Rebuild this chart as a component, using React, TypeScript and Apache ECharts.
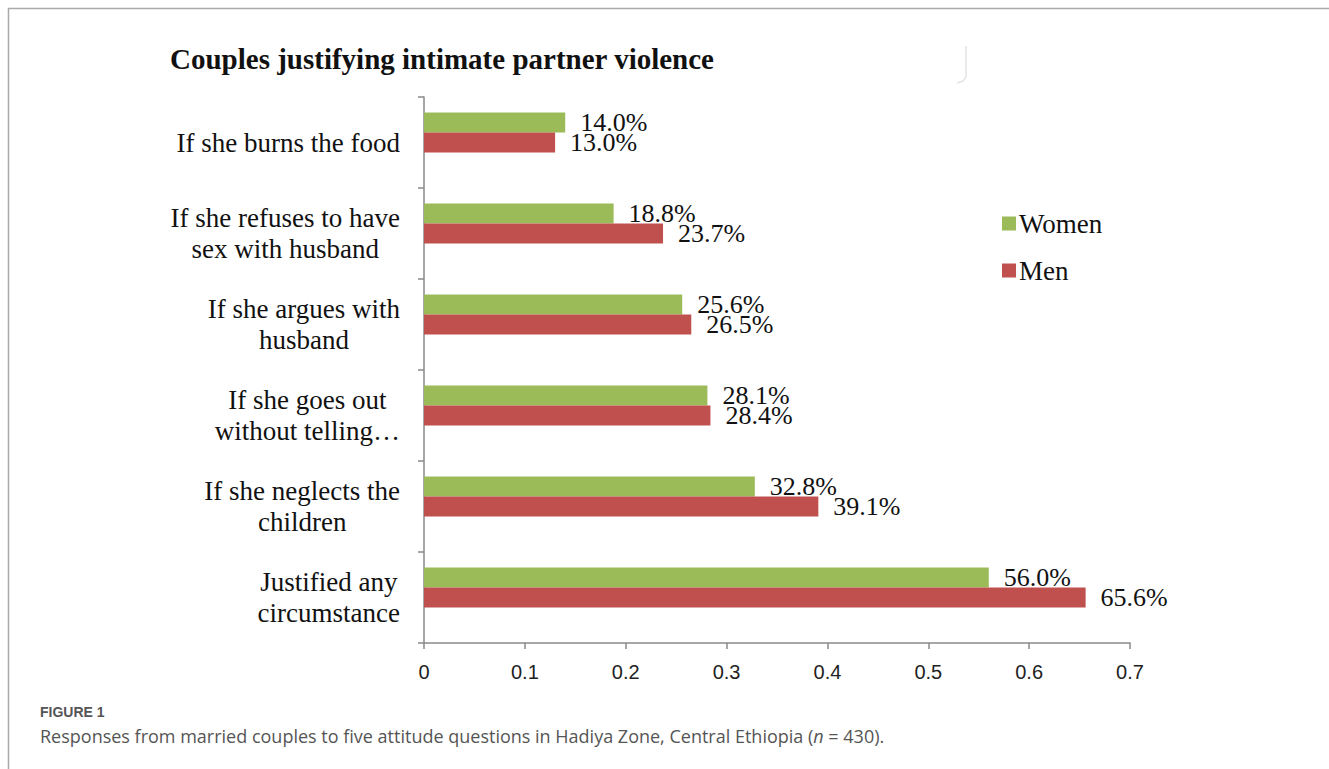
import React, { useEffect, useRef } from "react";
import * as echarts from "echarts";

const categories = [
  "If she burns the food",
  "If she refuses to have\nsex with husband",
  "If she argues with\nhusband",
  "If she goes out\nwithout telling…",
  "If she neglects the\nchildren",
  "Justified any\ncircumstance",
];
const women = [0.14, 0.188, 0.256, 0.281, 0.328, 0.56];
const men = [0.13, 0.237, 0.265, 0.284, 0.391, 0.656];
const spacer = [null, null, null, null, null, null];
const xTicks = [0, 0.1, 0.2, 0.3, 0.4, 0.5, 0.6, 0.7];

const SERIF = "'Liberation Serif', 'Times New Roman', serif";
const NARROW = "'Liberation Sans Narrow', 'Liberation Sans', Arial, sans-serif";

export default function App() {
  const ref = useRef<HTMLDivElement>(null);
  useEffect(() => {
    document.body.style.margin = "0";
    const chart = echarts.init(ref.current!, null, { renderer: "svg" });
    const labelCommon = {
      show: true,
      position: "right",
      distance: 15,
      fontFamily: SERIF,
      fontSize: 26,
      color: "#111",
      formatter: (p: any) => (p.value * 100).toFixed(1) + "%",
    };
    chart.setOption({
      animation: false,
      backgroundColor: "#fff",
      title: {
        text: "Couples justifying intimate partner violence",
        left: 170,
        top: 44,
        padding: 0,
        textStyle: { fontFamily: SERIF, fontWeight: "bold", fontSize: 29, color: "#111" },
      },
      legend: {
        data: ["Women", "Men"],
        orient: "vertical",
        left: 997,
        top: 205,
        icon: "rect",
        itemWidth: 14,
        itemHeight: 14,
        itemGap: 20,
        textStyle: { fontFamily: SERIF, fontSize: 27, color: "#111", padding: [0, 0, 0, -2] },
      },
      grid: { left: 424, right: 199, top: 97, bottom: 126, containLabel: false },
      xAxis: {
        type: "value",
        min: xTicks[0],
        max: xTicks[xTicks.length - 1],
        interval: 0.1,
        splitLine: { show: false },
        axisLine: { show: true, lineStyle: { color: "#8a8a8a", width: 1.5 } },
        axisTick: { show: true, length: 6, lineStyle: { color: "#8a8a8a", width: 1.5 } },
        axisLabel: {
          margin: 19,
          fontFamily: NARROW,
          fontSize: 20,
          color: "#222",
          formatter: (v: number) => String(Math.round(v * 10) / 10),
        },
      },
      yAxis: {
        type: "category",
        data: categories,
        inverse: true,
        axisLine: { show: true, lineStyle: { color: "#8a8a8a", width: 1.5 } },
        axisTick: { show: true, length: 6, lineStyle: { color: "#8a8a8a", width: 1.5 } },
        axisLabel: {
          margin: 24,
          fontFamily: SERIF,
          fontSize: 27,
          lineHeight: 31,
          color: "#111",
          formatter: (v: string) =>
            v
              .split("\n")
              .map((l) => "{c|" + l + "}")
              .join("\n"),
          rich: {
            c: { align: "center", fontFamily: SERIF, fontSize: 27, lineHeight: 31, color: "#111" },
          },
        },
      },
      series: [
        {
          name: "Women",
          type: "bar",
          data: women,
          barWidth: 20,
          barGap: "0%",
          itemStyle: { color: "#9BBB59" },
          label: labelCommon,
        },
        {
          name: "Men",
          type: "bar",
          data: men,
          barWidth: 20,
          barGap: "0%",
          itemStyle: { color: "#C0504D" },
          label: labelCommon,
        },
        {
          name: "spacer",
          type: "bar",
          data: spacer,
          barWidth: 20,
          barGap: "0%",
          itemStyle: { color: "transparent" },
        },
      ],
      graphic: [
        {
          type: "line",
          shape: { x1: 8, y1: 8.5, x2: 1329, y2: 8.5 },
          style: { stroke: "#aaaaaa", lineWidth: 1.5 },
        },
        {
          type: "line",
          shape: { x1: 8.5, y1: 8, x2: 8.5, y2: 769 },
          style: { stroke: "#aaaaaa", lineWidth: 1.5 },
        },
        {
          type: "polyline",
          shape: { points: [[966, 46], [966, 77], [963, 81], [957, 83]] },
          style: { stroke: "#e4e4e4", lineWidth: 1.5, fill: null },
        },
        {
          type: "text",
          left: 40,
          top: 705,
          style: {
            text: "FIGURE 1",
            fontFamily: NARROW,
            fontSize: 14,
            fontWeight: "bold",
            fill: "#555",
          },
        },
        {
          type: "text",
          left: 40,
          top: 727,
          style: {
            text: "Responses from married couples to five attitude questions in Hadiya Zone, Central Ethiopia ({i|n} = 430).",
            fontFamily: "'Open Sans', sans-serif",
            fontSize: 18,
            fill: "#555",
            rich: {
              i: { fontStyle: "italic", fontFamily: "'Open Sans', sans-serif", fontSize: 18, fill: "#555" },
            },
          },
        },
      ],
    });
    return () => chart.dispose();
  }, []);
  return (
    <div
      ref={ref}
      style={{ position: "absolute", left: 0, top: 0, width: 1329, height: 769 }}
    />
  );
}
